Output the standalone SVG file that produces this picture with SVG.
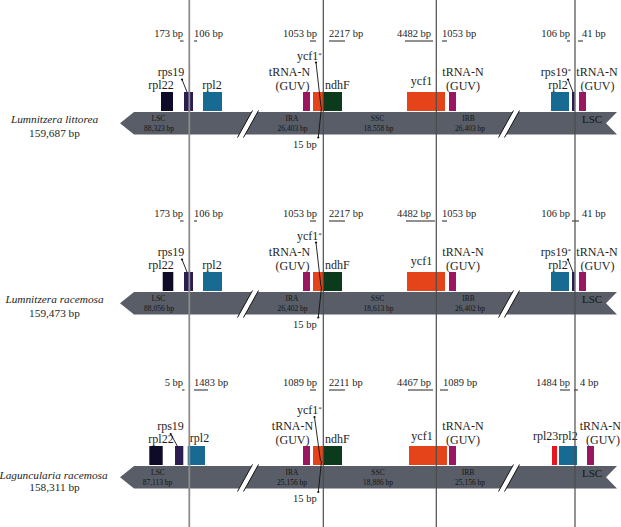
<svg xmlns="http://www.w3.org/2000/svg" width="621" height="527" viewBox="0 0 621 527">
<style>
text{font-family:"Liberation Serif","Times New Roman",serif;fill:#1e1e1e}
.bp{font-size:10.5px}
.gl{font-size:12px}
.sp{font-size:11.3px;font-style:italic}
.sz{font-size:11.3px}
.bt{font-size:7.5px;fill:#151515}
.bl{font-size:11px;fill:#151515}
.m{text-anchor:middle}
.e{text-anchor:end}
.u{stroke:#222;stroke-width:1;fill:none}
.bar{fill:#585d67}
.brk{fill:#ffffff}
.brl{stroke:#111;stroke-width:1;fill:none}
.ld{stroke:#111;stroke-width:0.9;fill:none}
.dot{fill:#111}
.rpl22{fill:#0e0b28}
.rps19{fill:#2b1d4f}
.rpl2{fill:#176b93}
.trn{fill:#9b1660}
.ycf1{fill:#e5431a}
.ndhf{fill:#0b3a1c}
.rpl23{fill:#e8141e}
.vg{stroke:#8c8c8c;stroke-width:1.8}
.vd{stroke:#4c4c4c;stroke-width:1.2}
</style>
<defs>
<g id="barshape">
<polygon class="bar" points="120,123.3 134,112 617,112 606,123.3 617,134.5 134,134.5"/>
<polygon class="brk" points="237.5,137.5 252.5,110.5 258.5,110.5 243.5,137.5"/>
<line class="brl" x1="237.5" y1="137.5" x2="252.5" y2="110.5"/>
<line class="brl" x1="243.5" y1="137.5" x2="258.5" y2="110.5"/>
<polygon class="brk" points="498.5,137.5 513.5,110.5 519.5,110.5 504.5,137.5"/>
<line class="brl" x1="498.5" y1="137.5" x2="513.5" y2="110.5"/>
<line class="brl" x1="504.5" y1="137.5" x2="519.5" y2="110.5"/>
</g>
</defs>

<!-- Panel 1 -->
<g id="panel1">
<use href="#barshape"/>
<g id="p1-species"><text class="sp m" x="54.5" y="123">Lumnitzera littorea</text><text class="sz m" x="54.5" y="136.5">159,687 bp</text></g>
<g id="p1-regions">
<text class="bt m" x="158.5" y="120.5">LSC</text><text class="bt m" x="159" y="130.5">88,323 bp</text>
<text class="bt m" x="292" y="120.5">IRA</text><text class="bt m" x="292.5" y="130.5">26,403 bp</text>
<text class="bt m" x="377.5" y="120.5">SSC</text><text class="bt m" x="378.5" y="130.5">18,558 bp</text>
<text class="bt m" x="468.5" y="120.5">IRB</text><text class="bt m" x="470" y="130.5">26,403 bp</text>
<text class="bl m" x="592" y="122.5">LSC</text>
</g>
<g id="p1-genes">
<rect class="rpl22" x="161" y="92" width="12" height="19"/>
<rect class="rps19" x="184" y="92" width="9" height="19"/>
<rect class="rpl2" x="203" y="92" width="19" height="19"/>
<rect class="trn" x="303" y="92" width="7" height="19"/>
<rect class="ycf1" x="313" y="92" width="10" height="19"/>
<rect class="ndhf" x="323" y="92" width="19" height="19"/>
<rect class="ycf1" x="407" y="92" width="38" height="19"/>
<rect class="trn" x="449" y="92" width="7" height="19"/>
<rect class="rpl2" x="551" y="92" width="18" height="19"/>
<rect class="rps19" x="572" y="92" width="2.5" height="19"/>
<rect class="trn" x="579" y="92" width="7" height="19"/>
</g>
<g id="p1-labels">
<text class="gl m" x="171" y="76">rps19</text>
<text class="gl m" x="161" y="88.5">rpl22</text>
<text class="gl m" x="212" y="88.5">rpl2</text>
<text class="gl m" x="289.5" y="76">tRNA-N</text>
<text class="gl m" x="292.5" y="89.5">(GUV)</text>
<text class="gl" x="297" y="60">ycf1<tspan font-size="7" dy="-3.5">*</tspan></text>
<text class="gl" x="325" y="89">ndhF</text>
<text class="gl m" x="421.5" y="85">ycf1</text>
<text class="gl m" x="463" y="76">tRNA-N</text>
<text class="gl m" x="463" y="90">(GUV)</text>
<text class="gl e" x="571" y="76">rps19<tspan font-size="7" dy="-3.5">*</tspan></text>
<text class="gl m" x="558" y="89">rpl2</text>
<text class="gl m" x="597" y="76">tRNA-N</text>
<text class="gl m" x="597.5" y="90">(GUV)</text>
<text class="bp" x="293" y="147.5">15 bp</text>
</g>
<g id="p1-bp">
<text class="bp e" x="183" y="37">173 bp</text>
<text class="bp" x="194" y="37">106 bp</text>
<text class="bp e" x="317" y="37">1053 bp</text>
<text class="bp" x="329" y="37">2217 bp</text>
<text class="bp e" x="431" y="37">4482 bp</text>
<text class="bp" x="442" y="37">1053 bp</text>
<text class="bp e" x="570" y="37">106 bp</text>
<text class="bp" x="582" y="37">41 bp</text>
<path class="u" d="M180,41H183.5M194,41H197M310,41H316M329,41H345M405,41H433M442,41H447M567,41H570M578,41H583"/>
</g>
</g>

<!-- Panel 2 -->
<g id="panel2" transform="translate(0,180)">
<use href="#barshape"/>
<g id="p2-species"><text class="sp m" x="54.5" y="123">Lumnitzera racemosa</text><text class="sz m" x="54.5" y="136.5">159,473 bp</text></g>
<g id="p2-regions">
<text class="bt m" x="158.5" y="120.5">LSC</text><text class="bt m" x="159" y="130.5">88,056 bp</text>
<text class="bt m" x="292" y="120.5">IRA</text><text class="bt m" x="292.5" y="130.5">26,402 bp</text>
<text class="bt m" x="377.5" y="120.5">SSC</text><text class="bt m" x="378.5" y="130.5">18,613 bp</text>
<text class="bt m" x="468.5" y="120.5">IRB</text><text class="bt m" x="470" y="130.5">26,402 bp</text>
<text class="bl m" x="592" y="122.5">LSC</text>
</g>
<g id="p2-genes">
<rect class="rpl22" x="162.7" y="92" width="10.6" height="19"/>
<rect class="rps19" x="184" y="92" width="9" height="19"/>
<rect class="rpl2" x="203" y="92" width="19" height="19"/>
<rect class="trn" x="303" y="92" width="7" height="19"/>
<rect class="ycf1" x="313" y="92" width="10" height="19"/>
<rect class="ndhf" x="323" y="92" width="19" height="19"/>
<rect class="ycf1" x="407" y="92" width="38" height="19"/>
<rect class="trn" x="449" y="92" width="7" height="19"/>
<rect class="rpl2" x="551" y="92" width="18" height="19"/>
<rect class="rps19" x="572" y="92" width="2.5" height="19"/>
<rect class="trn" x="579" y="92" width="7" height="19"/>
</g>
<g id="p2-labels">
<text class="gl m" x="171" y="76">rps19</text>
<text class="gl m" x="161" y="88.5">rpl22</text>
<text class="gl m" x="212" y="88.5">rpl2</text>
<text class="gl m" x="289.5" y="76">tRNA-N</text>
<text class="gl m" x="292.5" y="89.5">(GUV)</text>
<text class="gl" x="297" y="60">ycf1<tspan font-size="7" dy="-3.5">*</tspan></text>
<text class="gl" x="325" y="89">ndhF</text>
<text class="gl m" x="421.5" y="85">ycf1</text>
<text class="gl m" x="463" y="76">tRNA-N</text>
<text class="gl m" x="463" y="90">(GUV)</text>
<text class="gl e" x="571" y="76">rps19<tspan font-size="7" dy="-3.5">*</tspan></text>
<text class="gl m" x="558" y="89">rpl2</text>
<text class="gl m" x="597" y="76">tRNA-N</text>
<text class="gl m" x="597.5" y="90">(GUV)</text>
<text class="bp" x="293" y="147.5">15 bp</text>
</g>
<g id="p2-bp">
<text class="bp e" x="183" y="37">173 bp</text>
<text class="bp" x="194" y="37">106 bp</text>
<text class="bp e" x="317" y="37">1053 bp</text>
<text class="bp" x="329" y="37">2217 bp</text>
<text class="bp e" x="431" y="37">4482 bp</text>
<text class="bp" x="442" y="37">1053 bp</text>
<text class="bp e" x="570" y="37">106 bp</text>
<text class="bp" x="582" y="37">41 bp</text>
<path class="u" d="M180,41H183.5M194,41H197M310,41H316M329,41H345M406,41H435M442,41H447M572,41H579"/>
</g>
</g>

<!-- Panel 3 -->
<g id="panel3" transform="translate(0,354)">
<use href="#barshape"/>
<g id="p3-species"><text class="sp m" x="53.5" y="124.5">Laguncularia racemosa</text><text class="sz m" x="54.5" y="136.5">158,311 bp</text></g>
<g id="p3-regions">
<text class="bt m" x="158" y="121">LSC</text><text class="bt m" x="157.5" y="131">87,113 bp</text>
<text class="bt m" x="292" y="121">IRA</text><text class="bt m" x="292" y="131">25,156 bp</text>
<text class="bt m" x="378" y="121">SSC</text><text class="bt m" x="378" y="131">18,886 bp</text>
<text class="bt m" x="468" y="121">IRB</text><text class="bt m" x="470" y="131">25,156 bp</text>
<text class="bl m" x="592" y="123">LSC</text>
</g>
<g id="p3-genes">
<rect class="rpl22" x="149.3" y="92" width="13.4" height="19"/>
<rect class="rps19" x="175" y="92" width="8.3" height="19"/>
<rect class="rpl2" x="187.7" y="92" width="17.3" height="19"/>
<rect class="trn" x="303" y="92" width="7" height="19"/>
<rect class="ycf1" x="313" y="92" width="10" height="19"/>
<rect class="ndhf" x="323" y="92" width="19" height="19"/>
<rect class="ycf1" x="409" y="92" width="38" height="19"/>
<rect class="trn" x="449" y="92" width="7" height="19"/>
<rect class="rpl23" x="552" y="92" width="5" height="19"/>
<rect class="rpl2" x="559" y="92" width="18" height="19"/>
<rect class="trn" x="587" y="92" width="7" height="19"/>
</g>
<g id="p3-labels">
<text class="gl m" x="170.5" y="75.5">rps19</text>
<text class="gl m" x="161" y="88.5">rpl22</text>
<text class="gl m" x="199.5" y="88">rpl2</text>
<text class="gl m" x="292.5" y="76">tRNA-N</text>
<text class="gl m" x="292.5" y="89.8">(GUV)</text>
<text class="gl" x="297" y="60">ycf1<tspan font-size="7" dy="-3.5">*</tspan></text>
<text class="gl" x="325" y="89">ndhF</text>
<text class="gl m" x="422" y="86">ycf1</text>
<text class="gl m" x="463" y="76">tRNA-N</text>
<text class="gl m" x="463" y="89.8">(GUV)</text>
<text class="gl" x="533" y="86">rpl23rpl2</text>
<text class="gl e" x="621" y="76">tRNA-N</text>
<text class="gl m" x="603" y="89.8">(GUV)</text>
<text class="bp" x="293" y="147.5">15 bp</text>
</g>
<g id="p3-bp">
<text class="bp e" x="183" y="32">5 bp</text>
<text class="bp" x="194" y="32">1483 bp</text>
<text class="bp e" x="317" y="32">1089 bp</text>
<text class="bp" x="329" y="32">2211 bp</text>
<text class="bp e" x="431" y="32">4467 bp</text>
<text class="bp" x="443" y="32">1089 bp</text>
<text class="bp e" x="570" y="32">1484 bp</text>
<text class="bp" x="580" y="32">4 bp</text>
<path class="u" d="M182,36H184.5M194,36H208M310,36H316M329,36H345M408,36H433M440,36H448M560,36H570M574,36H578"/>
</g>
</g>

<!-- Connectors: boundary lines and leader lines -->
<g id="connectors">
<line class="vg" x1="189.3" y1="0" x2="189.3" y2="527"/>
<line class="vd" x1="323.3" y1="0" x2="323.3" y2="527"/>
<line class="vd" x1="436.3" y1="0" x2="436.3" y2="527"/>
<line class="vd" x1="575" y1="0" x2="575" y2="527"/>
<!-- panel 1 leaders -->
<line class="ld" x1="182" y1="79.5" x2="187" y2="92"/><circle class="dot" cx="182" cy="79.5" r="1.1"/>
<line class="ld" x1="316" y1="62.5" x2="321" y2="107"/><circle class="dot" cx="316" cy="62.5" r="1.1"/>
<line class="ld" x1="318.3" y1="137.5" x2="321.5" y2="107"/><circle class="dot" cx="318.3" cy="137.5" r="1.1"/>
<line class="ld" x1="568" y1="79.5" x2="573" y2="92"/><circle class="dot" cx="568" cy="79.5" r="1.1"/>
<!-- panel 2 leaders -->
<line class="ld" x1="182" y1="259.5" x2="187" y2="272"/><circle class="dot" cx="182" cy="259.5" r="1.1"/>
<line class="ld" x1="316" y1="242.5" x2="321" y2="287"/><circle class="dot" cx="316" cy="242.5" r="1.1"/>
<line class="ld" x1="318.3" y1="317.5" x2="321.5" y2="287"/><circle class="dot" cx="318.3" cy="317.5" r="1.1"/>
<line class="ld" x1="568" y1="259.5" x2="573" y2="272"/><circle class="dot" cx="568" cy="259.5" r="1.1"/>
<!-- panel 3 leaders -->
<line class="ld" x1="170.7" y1="434" x2="177.3" y2="446"/><circle class="dot" cx="170.7" cy="434" r="1.1"/>
<line class="ld" x1="314.5" y1="417" x2="320.5" y2="461"/><circle class="dot" cx="314.5" cy="417" r="1.1"/>
<line class="ld" x1="318.3" y1="492" x2="321.5" y2="461"/><circle class="dot" cx="318.3" cy="492" r="1.1"/>
</g>
</svg>
